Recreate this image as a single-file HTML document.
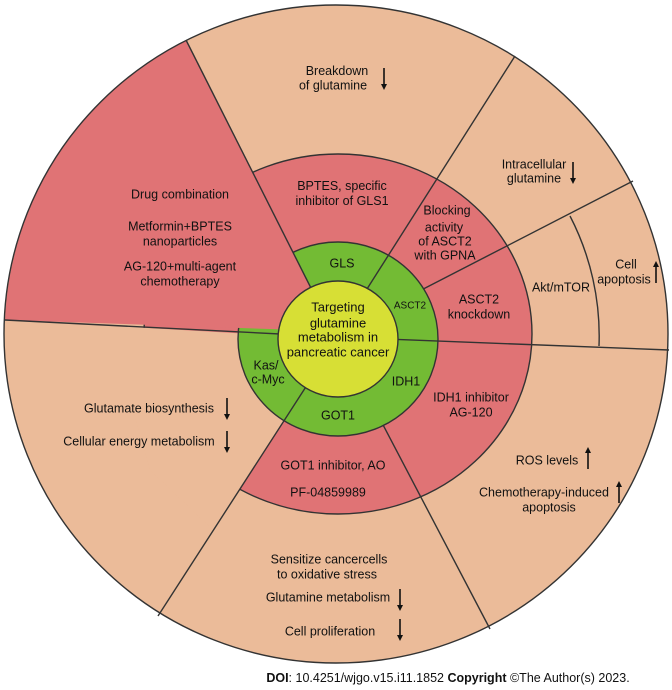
<!DOCTYPE html>
<html><head><meta charset="utf-8"><style>
html,body{margin:0;padding:0;background:#fff;width:672px;height:690px;overflow:hidden}
svg{display:block}
text{font-family:"Liberation Sans",sans-serif;font-size:12.5px;fill:#111;text-anchor:middle}
</style></head><body>
<svg width="672" height="690" viewBox="0 0 672 690" xmlns="http://www.w3.org/2000/svg">
<defs>
<marker id="ah" markerWidth="6" markerHeight="6" refX="3" refY="3" orient="auto" markerUnits="userSpaceOnUse"><path d="M0,0 L6,3 L0,6 Z" fill="#111"/></marker>
</defs>
<g stroke="#333" stroke-width="1.4">
<ellipse cx="336" cy="334" rx="332" ry="329" fill="#EBBB99" stroke="none"/>
<ellipse cx="338" cy="334" rx="194" ry="180" fill="#E07375"/>
<polygon points="338,339 213,530 150,470 130,400 130,327" fill="#EBBB99" stroke="none"/>
<line x1="633" y1="181" x2="400" y2="301"/>
<line x1="490" y1="629" x2="370" y2="400"/>
<path d="M570,216 A261,261 0 0 1 599,346" fill="none"/>
<ellipse cx="338" cy="339" rx="100" ry="97" fill="#73BB34"/>
<path d="M300,330 L5,320 A332,329 0 0 1 186,40 L310,286 Z" fill="#E07375" stroke="none"/>
<line x1="5" y1="320" x2="300" y2="335"/>
<line x1="186" y1="40" x2="318" y2="302"/>
<line x1="515" y1="56" x2="360" y2="300"/>
<line x1="669" y1="350" x2="360" y2="338"/>
<line x1="158" y1="616" x2="320" y2="365"/>
<ellipse cx="338" cy="339" rx="60" ry="58" fill="#D7DF35"/>
<ellipse cx="336" cy="334" rx="332" ry="329" fill="none"/>
</g>
<g>
<text x="337" y="75">Breakdown</text>
<text x="333" y="89.5">of glutamine</text>
<text x="342" y="190">BPTES, specific</text>
<text x="342" y="205">inhibitor of GLS1</text>
<text x="180" y="198.5">Drug combination</text>
<text x="180" y="230.5">Metformin+BPTES</text>
<text x="180" y="245.5">nanoparticles</text>
<text x="180" y="270.5">AG-120+multi-agent</text>
<text x="180" y="285.5">chemotherapy</text>
<text x="534" y="168.5">Intracellular</text>
<text x="534" y="182.5">glutamine</text>
<text x="447" y="214.5">Blocking</text>
<text x="444" y="231.5">activity</text>
<text x="445" y="245.5">of ASCT2</text>
<text x="445" y="259.5">with GPNA</text>
<text x="626" y="268.5">Cell</text>
<text x="624" y="283.5">apoptosis</text>
<text x="561" y="291.5">Akt/mTOR</text>
<text x="479" y="303.5">ASCT2</text>
<text x="479" y="318.5">knockdown</text>
<text x="342" y="267.5">GLS</text>
<text x="410" y="308.5" style="font-size:10px">ASCT2</text>
<text x="338" y="311.5" style="font-size:13px">Targeting</text>
<text x="338" y="327.5" style="font-size:13px">glutamine</text>
<text x="338" y="341.5" style="font-size:13px">metabolism in</text>
<text x="338" y="356.5" style="font-size:13px">pancreatic cancer</text>
<text x="266" y="369.5">Kas/</text>
<text x="268" y="383.5">c-Myc</text>
<text x="406" y="385.5">IDH1</text>
<text x="338" y="419.5">GOT1</text>
<text x="471" y="401.5">IDH1 inhibitor</text>
<text x="471" y="416.5">AG-120</text>
<text x="149" y="412.5">Glutamate biosynthesis</text>
<text x="139" y="445.5">Cellular energy metabolism</text>
<text x="333" y="469.5">GOT1 inhibitor, AO</text>
<text x="328" y="496.5">PF-04859989</text>
<text x="547" y="464.5">ROS levels</text>
<text x="544" y="496.5">Chemotherapy-induced</text>
<text x="549" y="511.5">apoptosis</text>
<text x="329" y="563.5">Sensitize cancercells</text>
<text x="327" y="578.5">to oxidative stress</text>
<text x="328" y="601.5">Glutamine metabolism</text>
<text x="330" y="635.5">Cell proliferation</text>
</g>
<g stroke="#111" stroke-width="1.6" marker-end="url(#ah)">
<line x1="384" y1="68" x2="384" y2="87"/>
<line x1="573" y1="162" x2="573" y2="181"/>
<line x1="656" y1="283" x2="656" y2="264"/>
<line x1="227" y1="398" x2="227" y2="417"/>
<line x1="227" y1="431" x2="227" y2="450"/>
<line x1="588" y1="469" x2="588" y2="450"/>
<line x1="619" y1="503" x2="619" y2="484"/>
<line x1="400" y1="589" x2="400" y2="608"/>
<line x1="400" y1="619" x2="400" y2="638"/>
</g>
<text x="448" y="682" style="font-size:12.5px;fill:#111"><tspan font-weight="bold">DOI</tspan>: 10.4251/wjgo.v15.i11.1852 <tspan font-weight="bold">Copyright</tspan> ©The Author(s) 2023.</text>
</svg>
</body></html>
